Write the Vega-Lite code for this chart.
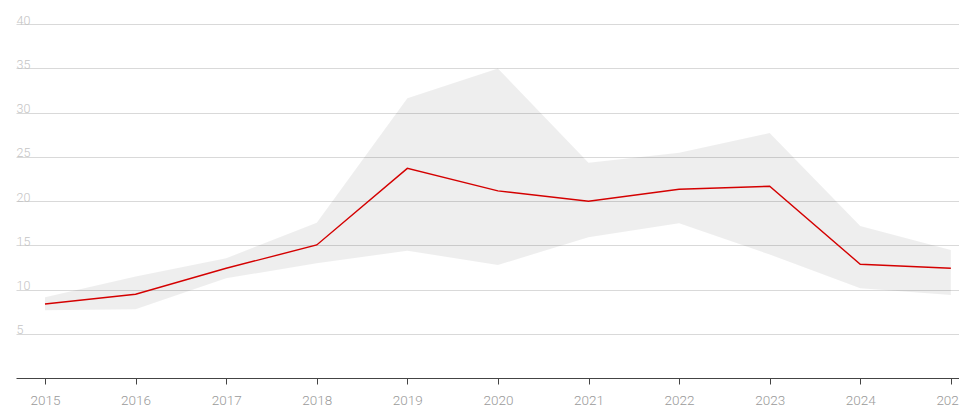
{
  "$schema": "https://vega.github.io/schema/vega-lite/v6.json",
  "width": 943,
  "height": 354,
  "autosize": "none",
  "padding": {"left": 16, "top": 24, "right": 0, "bottom": 28},
  "background": "white",
  "config": {
    "view": {"stroke": null},
    "font": "Roboto"
  },
  "data": {
    "values": [
      {"year": 2015, "value": 8.36, "lower": 7.65, "upper": 9.12},
      {"year": 2016, "value": 9.46, "lower": 7.76, "upper": 11.47},
      {"year": 2017, "value": 12.4, "lower": 11.27, "upper": 13.53},
      {"year": 2018, "value": 15.03, "lower": 12.96, "upper": 17.55},
      {"year": 2019, "value": 23.69, "lower": 14.38, "upper": 31.6},
      {"year": 2020, "value": 21.15, "lower": 12.77, "upper": 34.97},
      {"year": 2021, "value": 19.97, "lower": 15.9, "upper": 24.33},
      {"year": 2022, "value": 21.32, "lower": 17.48, "upper": 25.46},
      {"year": 2023, "value": 21.66, "lower": 13.95, "upper": 27.68},
      {"year": 2024, "value": 12.85, "lower": 10.14, "upper": 17.18},
      {"year": 2025, "value": 12.4, "lower": 9.38, "upper": 14.46}
    ]
  },
  "encoding": {
    "x": {
      "field": "year",
      "type": "quantitative",
      "scale": {"domain": [2014.68, 2025.09], "nice": false, "zero": false},
      "axis": {
        "title": null,
        "values": [2015, 2016, 2017, 2018, 2019, 2020, 2021, 2022, 2023, 2024, 2025],
        "format": "d",
        "grid": false,
        "domainColor": "#444",
        "domainWidth": 1,
        "tickColor": "#444",
        "tickSize": 6,
        "labelColor": "#9a9a9a",
        "labelFontSize": 13.5,
        "labelFontWeight": 300,
        "labelPadding": 9,
        "labelFlush": false,
        "labelOverlap": false
      }
    }
  },
  "layer": [
    {
      "mark": {"type": "area", "fill": "#000", "fillOpacity": 0.065, "stroke": null},
      "encoding": {
        "y": {
          "field": "lower",
          "type": "quantitative",
          "scale": {"domain": [0, 40], "nice": false},
          "axis": {
            "title": null,
            "values": [5, 10, 15, 20, 25, 30, 35, 40],
            "domain": false,
            "ticks": false,
            "tickSize": 0,
            "grid": true,
            "gridColor": "#d9d9d9",
            "gridWidth": 1,
            "labelAlign": "left",
            "labelBaseline": "alphabetic",
            "labelPadding": 0,
            "labelDy": -2,
            "labelColor": "#c4c4c4",
            "labelFontSize": 12.5,
            "labelFontWeight": 300
          }
        },
        "y2": {"field": "upper"}
      }
    },
    {
      "mark": {"type": "line", "color": "#d40000", "strokeWidth": 1.4},
      "encoding": {
        "y": {"field": "value", "type": "quantitative"}
      }
    }
  ]
}
